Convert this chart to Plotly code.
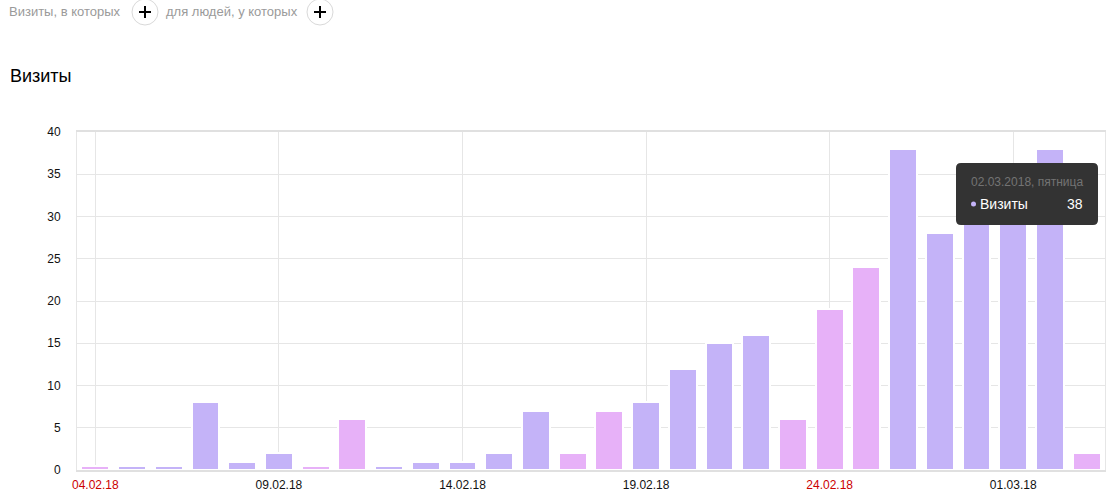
import plotly.graph_objects as go
import pandas as pd

# ---- data ----
dates = pd.date_range("2018-02-04", "2018-03-03", freq="D")
visits = [0, 0, 0, 8, 1, 2, 0, 6, 0, 1, 1, 2, 7, 2, 7, 8, 12, 15, 16, 6,
          19, 24, 38, 28, 32, 30, 38, 2]
holiday = [1, 0, 0, 0, 0, 0, 1, 1, 0, 0, 0, 0, 0, 1, 1, 0, 0, 0, 0, 1,
           1, 1, 0, 0, 0, 0, 0, 1]
tick_dates = ["2018-02-04", "2018-02-09", "2018-02-14", "2018-02-19", "2018-02-24", "2018-03-01"]
tick_labels = ["04.02.18", "09.02.18", "14.02.18", "19.02.18", "24.02.18", "01.03.18"]
tick_red = [True, False, False, False, True, False]
y_ticks = [0, 5, 10, 15, 20, 25, 30, 35, 40]

PURPLE = "#c4b3f8"
PINK = "#e7b1f8"
MIN_LEN = 0.5  # minimum visible bar height (like minPointLength)

# ---- geometry helpers (pixels -> paper) ----
W, H = 1120, 502
L, R, T, B = 77, 1105, 132, 470
def px(x):
    return (x - L) / (R - L)
def py(y):
    return (B - y) / (B - T)

colors = [PINK if h else PURPLE for h in holiday]
display = [v if v > 0 else MIN_LEN for v in visits]

fig = go.Figure()
fig.add_trace(go.Bar(
    x=dates, y=display, customdata=visits,
    marker=dict(color=colors, line=dict(color="white", width=2)),
    width=0.76 * 86400000,
    hovertemplate="%{x|%d.%m.%Y}<br>Визиты %{customdata}<extra></extra>",
))

ticktext = [f"<span style='color:#cc0000'>{t}</span>" if r else t
            for t, r in zip(tick_labels, tick_red)]

fig.update_layout(
    width=W, height=H,
    margin=dict(l=L, r=W - R, t=T, b=H - B, pad=0, autoexpand=False),
    plot_bgcolor="white", paper_bgcolor="white",
    showlegend=False, bargap=0,
    font=dict(family="Arial, Liberation Sans, sans-serif", size=12, color="#000"),
    xaxis=dict(
        type="date", automargin=False,
        range=[dates[0] - pd.Timedelta(hours=12), dates[-1] + pd.Timedelta(hours=12)],
        tickvals=pd.to_datetime(tick_dates), ticktext=ticktext,
        showgrid=True, gridcolor="#e6e6e6", gridwidth=1,
        showline=True, linecolor="#e0e0e0", linewidth=2, mirror=True,
        ticks="", ticklabelstandoff=3, zeroline=False,
        tickfont=dict(size=12, color="#111"),
    ),
    yaxis=dict(
        range=[0, 40], tickvals=y_ticks, automargin=False,
        showgrid=True, gridcolor="#e6e6e6", gridwidth=1,
        showline=True, linecolor="#e6e6e6", linewidth=1, mirror=True,
        ticks="", ticklabelstandoff=13, zeroline=False,
        tickfont=dict(size=12, color="#111"),
    ),
)

shapes = []
annotations = []

# header
annotations.append(dict(text="Визиты, в которых", x=px(7), y=py(12), xref="paper", yref="paper",
                        xanchor="left", yanchor="middle", showarrow=False,
                        font=dict(size=13, color="#9a9a9a", family="Arial, Liberation Sans, sans-serif")))
annotations.append(dict(text="для людей, у которых", x=px(164), y=py(12), xref="paper", yref="paper",
                        xanchor="left", yanchor="middle", showarrow=False,
                        font=dict(size=13, color="#9a9a9a", family="Arial, Liberation Sans, sans-serif")))
for cx in (145, 320):
    cy, r = 12, 13
    shapes.append(dict(type="circle", xref="paper", yref="paper",
                       x0=px(cx - r), x1=px(cx + r), y0=py(cy + r), y1=py(cy - r),
                       line=dict(color="#d9d9d9", width=1), fillcolor="white", layer="above"))
    shapes.append(dict(type="line", xref="paper", yref="paper",
                       x0=px(cx - 6), x1=px(cx + 6), y0=py(cy), y1=py(cy),
                       line=dict(color="#000", width=2), layer="above"))
    shapes.append(dict(type="line", xref="paper", yref="paper",
                       x0=px(cx), x1=px(cx), y0=py(cy - 6), y1=py(cy + 6),
                       line=dict(color="#000", width=2), layer="above"))

# title
annotations.append(dict(text="Визиты", x=px(8), y=py(76), xref="paper", yref="paper",
                        xanchor="left", yanchor="middle", showarrow=False,
                        font=dict(size=18, color="#000", family="Arial, Liberation Sans, sans-serif")))

# tooltip
x0, x1, y0, y1, rr = 956, 1098, 163, 225, 5
path = (f"M {px(x0 + rr)},{py(y0)} L {px(x1 - rr)},{py(y0)} Q {px(x1)},{py(y0)} {px(x1)},{py(y0 + rr)} "
        f"L {px(x1)},{py(y1 - rr)} Q {px(x1)},{py(y1)} {px(x1 - rr)},{py(y1)} "
        f"L {px(x0 + rr)},{py(y1)} Q {px(x0)},{py(y1)} {px(x0)},{py(y1 - rr)} "
        f"L {px(x0)},{py(y0 + rr)} Q {px(x0)},{py(y0)} {px(x0 + rr)},{py(y0)} Z")
shapes.append(dict(type="path", path=path, xref="paper", yref="paper",
                   fillcolor="#333333", line=dict(width=0), layer="above"))
tip_i = 26
tip_date = dates[tip_i].strftime("%d.%m.%Y") + ", пятница"
annotations.append(dict(text=tip_date, x=px(969), y=py(182), xref="paper", yref="paper",
                        xanchor="left", yanchor="middle", showarrow=False,
                        font=dict(size=12, color="#737373", family="Arial, Liberation Sans, sans-serif")))
shapes.append(dict(type="circle", xref="paper", yref="paper",
                   x0=px(971), x1=px(976), y0=py(206.5), y1=py(201.5),
                   line=dict(width=0), fillcolor=PURPLE, layer="above"))
annotations.append(dict(text="Визиты", x=px(978), y=py(204), xref="paper", yref="paper",
                        xanchor="left", yanchor="middle", showarrow=False,
                        font=dict(size=14, color="#ffffff", family="Arial, Liberation Sans, sans-serif")))
annotations.append(dict(text=str(visits[tip_i]), x=px(1085), y=py(204), xref="paper", yref="paper",
                        xanchor="right", yanchor="middle", showarrow=False,
                        font=dict(size=14, color="#ffffff", family="Arial, Liberation Sans, sans-serif")))

fig.update_layout(shapes=shapes, annotations=annotations)
fig.write_html("out.html", config={"displayModeBar": False},
               post_script="document.body.style.margin='0';document.body.style.overflow='hidden';")
